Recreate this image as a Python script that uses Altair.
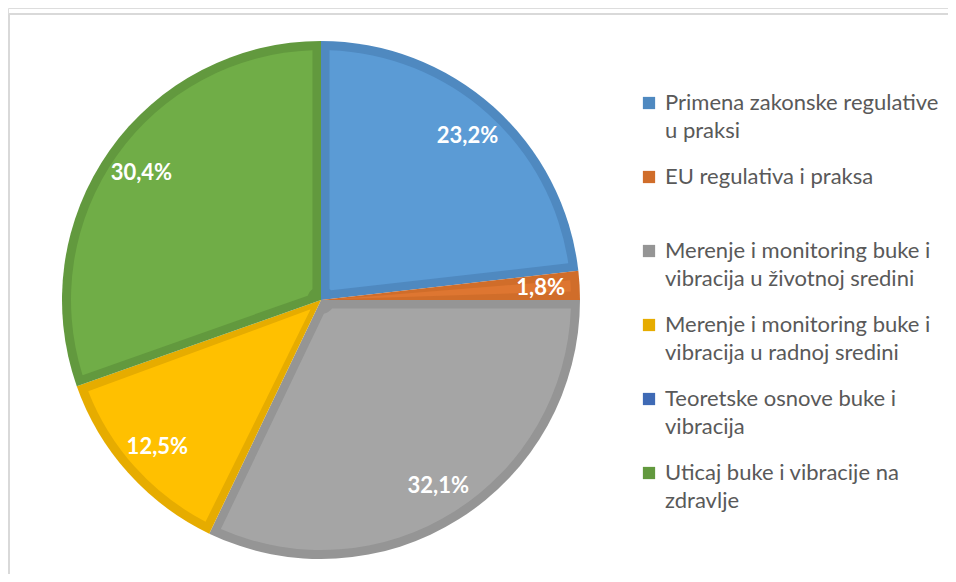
import altair as alt
import pandas as pd

categories = [
    "Primena zakonske regulative u praksi",
    "EU regulativa i praksa",
    "Merenje i monitoring buke i vibracija u životnoj sredini",
    "Merenje i monitoring buke i vibracija u radnoj sredini",
    "Teoretske osnove buke i vibracija",
    "Uticaj buke i vibracije na zdravlje",
]
legend_lines = [
    ["Primena zakonske regulative", "u praksi"],
    ["EU regulativa i praksa"],
    ["Merenje i monitoring buke i", "vibracija u životnoj sredini"],
    ["Merenje i monitoring buke i", "vibracija u radnoj sredini"],
    ["Teoretske osnove buke i", "vibracija"],
    ["Uticaj buke i vibracije na", "zdravlje"],
]
values = [23.2, 1.8, 32.1, 12.5, 0.0, 30.4]
fill_colors = ["#5B9BD5", "#DE7631", "#A5A5A5", "#FFC000", "#4472C4", "#70AD47"]
edge_colors = ["#4F89C0", "#D06D2A", "#959595", "#E6AC00", "#3F6AB5", "#62993E"]

df = pd.DataFrame({
    "category": categories,
    "value": values,
    "order": list(range(len(categories))),
    "fill": fill_colors,
    "label": [(f"{v:.1f}".replace(".", ",") + "%") for v in values],
})

# multi-line legend labels
expr_parts = []
for cat, lines in zip(categories, legend_lines):
    arr = "[" + ",".join("'" + l + "'" for l in lines) + "]"
    expr_parts.append(f"datum.label == '{cat}' ? {arr}")
label_expr = " : ".join(expr_parts) + " : datum.label"

CX, CY = 313, 292

base = alt.Chart(df).encode(
    theta=alt.Theta("value:Q", stack=True),
    order=alt.Order("order:Q"),
    x=alt.value(CX),
    y=alt.value(CY),
)

outer = base.mark_arc(radius=259).encode(
    color=alt.Color(
        "category:N",
        scale=alt.Scale(domain=categories, range=edge_colors),
        legend=alt.Legend(
            title=None,
            orient="none",
            legendX=630,
            legendY=84,
            padding=0,
            symbolType="square",
            symbolSize=150,
            symbolStrokeWidth=0,
            labelFont="Lato",
            labelFontSize=22,
            labelColor="#595959",
            labelLimit=500,
            labelOffset=5,
            labelBaseline="middle",
            labelExpr=label_expr,
            gridAlign="all",
            rowPadding=24,
        ),
    )
)

inner = base.mark_arc(radius=250, radius2=14, padAngle=0.068).encode(
    color=alt.Color("fill:N", scale=None)
)

labels = base.transform_filter("datum.value > 0").mark_text(
    radius=220, font="Lato", fontSize=22, fontWeight="bold", color="white"
).encode(text="label:N")

frame_top = alt.Chart(df).mark_rule(color="#D9D9D9", strokeWidth=2).encode(
    x=alt.value(1), x2=alt.value(948), y=alt.value(6)
)
frame_left = alt.Chart(df).mark_rule(color="#D9D9D9", strokeWidth=2).encode(
    x=alt.value(1), y=alt.value(6), y2=alt.value(566)
)

chart = alt.layer(frame_top, frame_left, outer, inner, labels).properties(
    width=940, height=566, autosize=alt.AutoSizeParams(type="none"), padding=0
).configure_view(stroke=None).configure(
    style={"guide-label": {"lineHeight": 28}}
)

chart.save("out.html", embed_options={"renderer": "svg", "actions": False})
